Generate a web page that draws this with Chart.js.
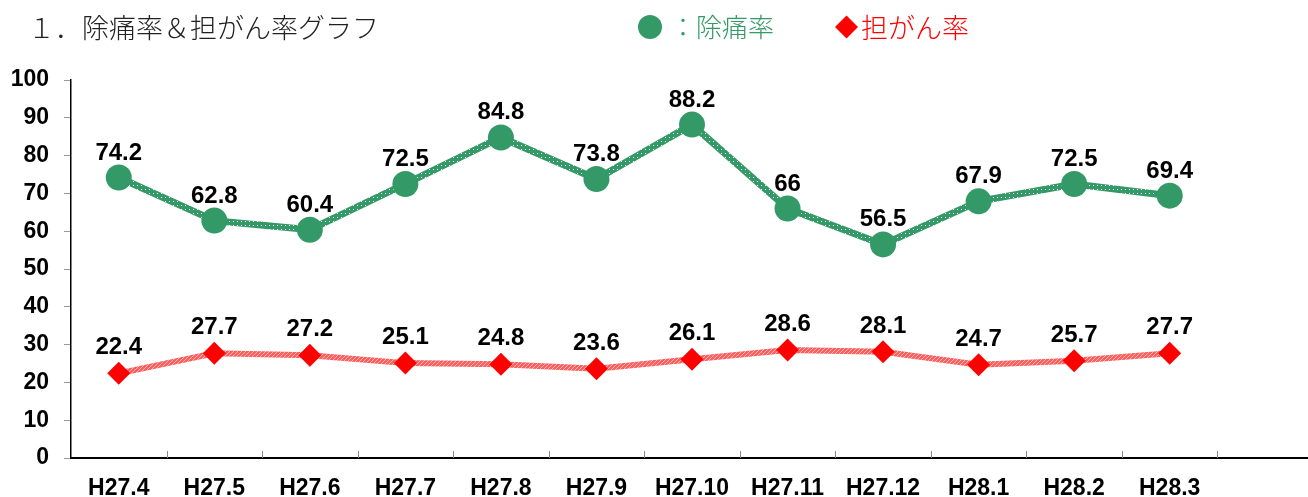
<!DOCTYPE html>
<html>
<head>
<meta charset="utf-8">
<script src="https://cdn.jsdelivr.net/npm/chart.js@4"></script>
<style>
  html,body{margin:0;padding:0;background:#fff;overflow:hidden;}
  #wrap{position:relative;width:1308px;height:497px;overflow:hidden;}
  canvas{position:absolute;left:0;top:0;}
  .t{position:absolute;font-family:"Noto Sans CJK JP",serif;font-size:26px;white-space:nowrap;line-height:1;font-weight:300;}
</style>
</head>
<body>
<div id="wrap">
  <canvas id="c" width="1326" height="497"></canvas>
  <div class="t" style="left:28px;top:13px;color:#222;font-size:27px;">１．除痛率＆担がん率グラフ</div>
  <div class="t" style="left:670px;top:13px;color:#339966;">：除痛率</div>
  <div class="t" style="left:861px;top:13px;color:#ff0000;font-size:27px;">担がん率</div>
</div>
<script>
const months = ['H27.4','H27.5','H27.6','H27.7','H27.8','H27.9','H27.10','H27.11','H27.12','H28.1','H28.2','H28.3',''];
const jotsu = [74.2, 62.8, 60.4, 72.5, 84.8, 73.8, 88.2, 66, 56.5, 67.9, 72.5, 69.4, null];
const tangan = [22.4, 27.7, 27.2, 25.1, 24.8, 23.6, 26.1, 28.6, 28.1, 24.7, 25.7, 27.7, null];

const GREEN = '#339966', RED = '#ff0000';
const FONT = '"Liberation Sans",Arial,sans-serif';

function pattern(bg, fg, size, dots){
  const p = document.createElement('canvas');
  p.width = size; p.height = size;
  const g = p.getContext('2d');
  g.fillStyle = bg; g.fillRect(0,0,size,size);
  g.fillStyle = fg;
  dots.forEach(d => g.fillRect(d[0], d[1], 1, 1));
  return g.createPattern(p, 'repeat');
}
const greenLine = pattern(GREEN, '#ffffff', 4, [[1,1]]);
const redLine = pattern('#ff5c5c', '#ffbcbc', 4, [[0,0],[2,2],[1,3],[3,1]]);

// legend markers, value labels and upward category ticks
const extras = {
  id:'extras',
  afterDatasetsDraw(chart){
    const c = chart.ctx;
    c.save();
    c.font = 'bold 24px ' + FONT;
    c.fillStyle = '#000';
    c.textAlign = 'center';
    c.textBaseline = 'alphabetic';
    [[0,18],[1,19]].forEach(([di,off]) => {
      const meta = chart.getDatasetMeta(di);
      meta.data.forEach((pt,i) => {
        const v = chart.data.datasets[di].data[i];
        if (v == null) return;
        c.fillText(String(v), pt.x, pt.y - off);
      });
    });
    // ticks on x axis pointing up
    const a = chart.chartArea;
    const n = months.length, w = (a.right - a.left) / n;
    c.strokeStyle = '#888'; c.lineWidth = 1;
    for (let i = 1; i < n; i++){
      const x = Math.round(a.left + i*w) + 0.5;
      c.beginPath(); c.moveTo(x, a.bottom); c.lineTo(x, a.bottom - 7); c.stroke();
    }
    // legend symbols
    c.fillStyle = GREEN;
    c.beginPath(); c.arc(650, 27, 12, 0, Math.PI*2); c.fill();
    c.fillStyle = RED;
    c.beginPath(); c.moveTo(846.5, 15.5); c.lineTo(858, 27); c.lineTo(846.5, 38.5); c.lineTo(835, 27); c.closePath(); c.fill();
    c.restore();
  }
};

new Chart(document.getElementById('c'), {
  type:'line',
  data:{
    labels: months,
    datasets:[
      { label:'除痛率', data: jotsu, borderColor: greenLine, borderWidth: 7,
        pointStyle:'circle', pointRadius: 13, pointBackgroundColor: GREEN, pointBorderWidth: 0, tension: 0 },
      { label:'担がん率', data: tangan, borderColor: redLine, borderWidth: 6,
        pointStyle:'rectRot', pointRadius: 11.5, pointBackgroundColor: RED, pointBorderWidth: 0, tension: 0 }
    ]
  },
  options:{
    responsive:false,
    animation:false,
    layout:{ padding:{ top: 80, right: 2, left: 0, bottom: 0 } },
    plugins:{ legend:{ display:false }, tooltip:{ enabled:false } },
    scales:{
      x:{
        offset:true,
        grid:{ display:false },
        border:{ color:'#000', width:2 },
        ticks:{ color:'#000', font:{ family: FONT, size: 23, weight:'bold' }, padding: 9, maxRotation:0, autoSkip:false },
        afterFit(s){ s.height = 39; }
      },
      y:{
        min:0, max:100,
        grid:{ drawOnChartArea:false, tickLength: 7, color:'#999' },
        border:{ color:'#000', width:1.5 },
        ticks:{ stepSize:10, color:'#000', font:{ family: FONT, size: 23, weight:'bold' }, padding: 15 },
        afterFit(s){ s.width = 71; }
      }
    }
  },
  plugins:[extras]
});
</script>
</body>
</html>
